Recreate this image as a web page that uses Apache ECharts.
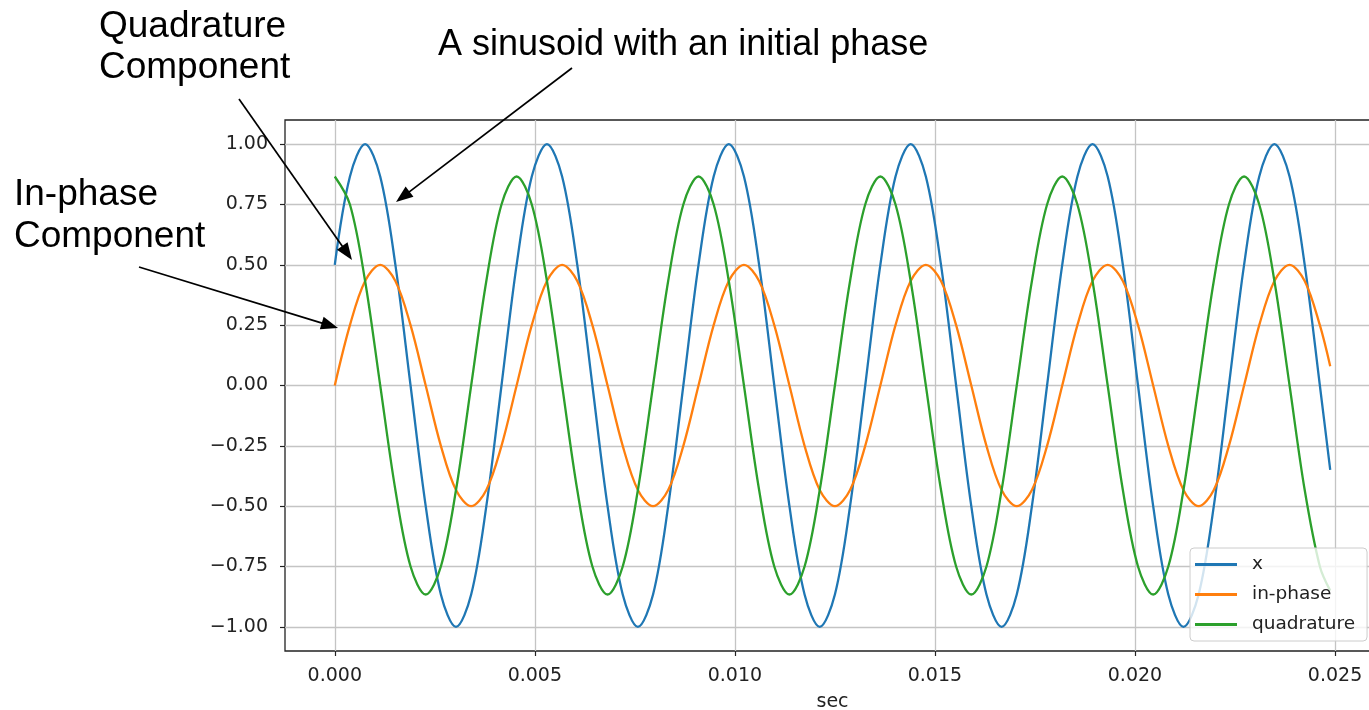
<!DOCTYPE html>
<html>
<head>
<meta charset="utf-8">
<script src="https://cdn.jsdelivr.net/npm/echarts@6/dist/echarts.min.js"></script>
<style>
html,body{margin:0;padding:0;background:#fff;}
#chart{width:1369px;height:710px;}
</style>
</head>
<body>
<div id="chart"></div>
<script>
// time samples (sec)
var timeSec = [
  0, 0.000379, 0.000758, 0.001136, 0.001515, 0.001894, 0.002273, 0.002652, 0.003030, 0.003409, 0.003788, 0.004167,
  0.004545, 0.004924, 0.005303, 0.005682, 0.006061, 0.006439, 0.006818, 0.007197, 0.007576, 0.007955, 0.008333, 0.008712,
  0.009091, 0.009470, 0.009848, 0.010227, 0.010606, 0.010985, 0.011364, 0.011742, 0.012121, 0.012500, 0.012879, 0.013258,
  0.013636, 0.014015, 0.014394, 0.014773, 0.015152, 0.015530, 0.015909, 0.016288, 0.016667, 0.017045, 0.017424, 0.017803,
  0.018182, 0.018561, 0.018939, 0.019318, 0.019697, 0.020076, 0.020455, 0.020833, 0.021212, 0.021591, 0.021970, 0.022348,
  0.022727, 0.023106, 0.023485, 0.023864, 0.024242, 0.024621, 0.02488
];
// series "x"
var xValues = [
  0.5, 0.866, 1, 0.866, 0.5, 0, -0.5, -0.866, -1, -0.866, -0.5, 0,
  0.5, 0.866, 1, 0.866, 0.5, 0, -0.5, -0.866, -1, -0.866, -0.5, 0,
  0.5, 0.866, 1, 0.866, 0.5, 0, -0.5, -0.866, -1, -0.866, -0.5, 0,
  0.5, 0.866, 1, 0.866, 0.5, 0, -0.5, -0.866, -1, -0.866, -0.5, 0,
  0.5, 0.866, 1, 0.866, 0.5, 0, -0.5, -0.866, -1, -0.866, -0.5, 0,
  0.5, 0.866, 1, 0.866, 0.5, 0, -0.35
];
// series "in-phase"
var inPhaseValues = [
  0, 0.25, 0.433, 0.5, 0.433, 0.25, 0, -0.25, -0.433, -0.5, -0.433, -0.25,
  0, 0.25, 0.433, 0.5, 0.433, 0.25, 0, -0.25, -0.433, -0.5, -0.433, -0.25,
  0, 0.25, 0.433, 0.5, 0.433, 0.25, 0, -0.25, -0.433, -0.5, -0.433, -0.25,
  0, 0.25, 0.433, 0.5, 0.433, 0.25, 0, -0.25, -0.433, -0.5, -0.433, -0.25,
  0, 0.25, 0.433, 0.5, 0.433, 0.25, 0, -0.25, -0.433, -0.5, -0.433, -0.25,
  0, 0.25, 0.433, 0.5, 0.433, 0.25, 0.08
];
// series "quadrature"
var quadratureValues = [
  0.866, 0.75, 0.433, 0, -0.433, -0.75, -0.866, -0.75, -0.433, 0, 0.433, 0.75,
  0.866, 0.75, 0.433, 0, -0.433, -0.75, -0.866, -0.75, -0.433, 0, 0.433, 0.75,
  0.866, 0.75, 0.433, 0, -0.433, -0.75, -0.866, -0.75, -0.433, 0, 0.433, 0.75,
  0.866, 0.75, 0.433, 0, -0.433, -0.75, -0.866, -0.75, -0.433, 0, 0.433, 0.75,
  0.866, 0.75, 0.433, 0, -0.433, -0.75, -0.866, -0.75, -0.433, 0, 0.433, 0.75,
  0.866, 0.75, 0.433, 0, -0.433, -0.75, -0.85
];
var seriesNames = ['x', 'in-phase', 'quadrature'];
var xTicks = [0, 0.005, 0.010, 0.015, 0.020, 0.025];
var yTicks = [-1, -0.75, -0.5, -0.25, 0, 0.25, 0.5, 0.75, 1];
var xAxisName = 'sec';

function pairs(vals) { return timeSec.map(function (t, i) { return [t, vals[i]]; }); }

var chart = echarts.init(document.getElementById('chart'), null, {renderer: 'canvas'});

var TICK_FONT = 'DejaVu Sans';
var ANN_FONT = 'Liberation Sans';

function arrow(x1, y1, x2, y2) {
  var dx = x2 - x1, dy = y2 - y1, len = Math.sqrt(dx * dx + dy * dy);
  var ux = dx / len, uy = dy / len;
  var L = 17, W = 6.5;
  var bx = x2 - ux * L, by = y2 - uy * L;
  return [
    {type: 'line', shape: {x1: x1, y1: y1, x2: bx + ux * 2, y2: by + uy * 2}, style: {stroke: '#000', lineWidth: 1.7}, z: 100},
    {type: 'polygon', shape: {points: [[x2, y2], [bx - uy * W, by + ux * W], [bx + uy * W, by - ux * W]]}, style: {fill: '#000'}, z: 100}
  ];
}

var graphics = [
  {type: 'text', left: 99, top: 6, style: {text: 'Quadrature\nComponent', font: '37px "' + ANN_FONT + '"', fill: '#000', lineHeight: 41}, z: 100},
  {type: 'text', left: 438, top: 27, style: {text: 'A sinusoid with an initial phase', font: '36px "' + ANN_FONT + '"', fill: '#000'}, z: 100},
  {type: 'text', left: 14, top: 174, style: {text: 'In-phase\nComponent', font: '37px "' + ANN_FONT + '"', fill: '#000', lineHeight: 42}, z: 100}
].concat(arrow(239, 99, 352, 260))
 .concat(arrow(572, 68, 396, 202))
 .concat(arrow(139, 267, 338, 328));

var option = {
  animation: false,
  color: ['#1f77b4', '#ff7f0e', '#2ca02c'],
  grid: {left: 285, top: 120, width: 1095, height: 531, show: true, borderColor: '#222', borderWidth: 1.3,
    backgroundColor: 'transparent', containLabel: false, outerBoundsMode: 'none'},
  xAxis: {
    type: 'value', min: -0.001244, max: 0.026124,
    name: xAxisName, nameLocation: 'middle', nameGap: 42,
    nameTextStyle: {fontFamily: TICK_FONT, fontSize: 19, color: '#222'},
    axisLine: {show: false, onZero: false},
    axisTick: {show: true, inside: false, length: 5, customValues: xTicks, lineStyle: {color: '#222', width: 1.2}},
    axisLabel: {customValues: xTicks, margin: 16, fontFamily: TICK_FONT, fontSize: 19, color: '#222',
      formatter: function (v) { return v.toFixed(3); }},
    splitLine: {show: true, lineStyle: {color: '#c4c4c4', width: 1.3}}
  },
  yAxis: {
    type: 'value', min: -1.1, max: 1.1,
    axisLine: {show: false, onZero: false},
    axisTick: {show: true, inside: false, length: 5, customValues: yTicks, lineStyle: {color: '#222', width: 1.2}},
    axisLabel: {customValues: yTicks, margin: 17, fontFamily: TICK_FONT, fontSize: 19, color: '#222',
      formatter: function (v) { return v.toFixed(2).replace('-', '\u2212'); }},
    splitLine: {show: true, lineStyle: {color: '#c4c4c4', width: 1.3}}
  },
  legend: {
    orient: 'vertical', left: 1190, top: 548,
    data: seriesNames,
    icon: 'rect', itemWidth: 42, itemHeight: 3, itemGap: 11,
    padding: [7, 12, 7, 5],
    backgroundColor: 'rgba(255,255,255,0.8)', borderColor: '#cccccc', borderWidth: 1, borderRadius: 4,
    textStyle: {fontFamily: TICK_FONT, fontSize: 18.5, color: '#222', padding: [0, 0, 0, 10]}
  },
  series: [
    {name: seriesNames[0], type: 'line', data: pairs(xValues), smooth: 0.34, symbol: 'none', lineStyle: {width: 2.3}},
    {name: seriesNames[1], type: 'line', data: pairs(inPhaseValues), smooth: 0.34, symbol: 'none', lineStyle: {width: 2.3}},
    {name: seriesNames[2], type: 'line', data: pairs(quadratureValues), smooth: 0.34, symbol: 'none', lineStyle: {width: 2.3}}
  ],
  graphic: graphics
};
chart.setOption(option);
</script>
</body>
</html>
